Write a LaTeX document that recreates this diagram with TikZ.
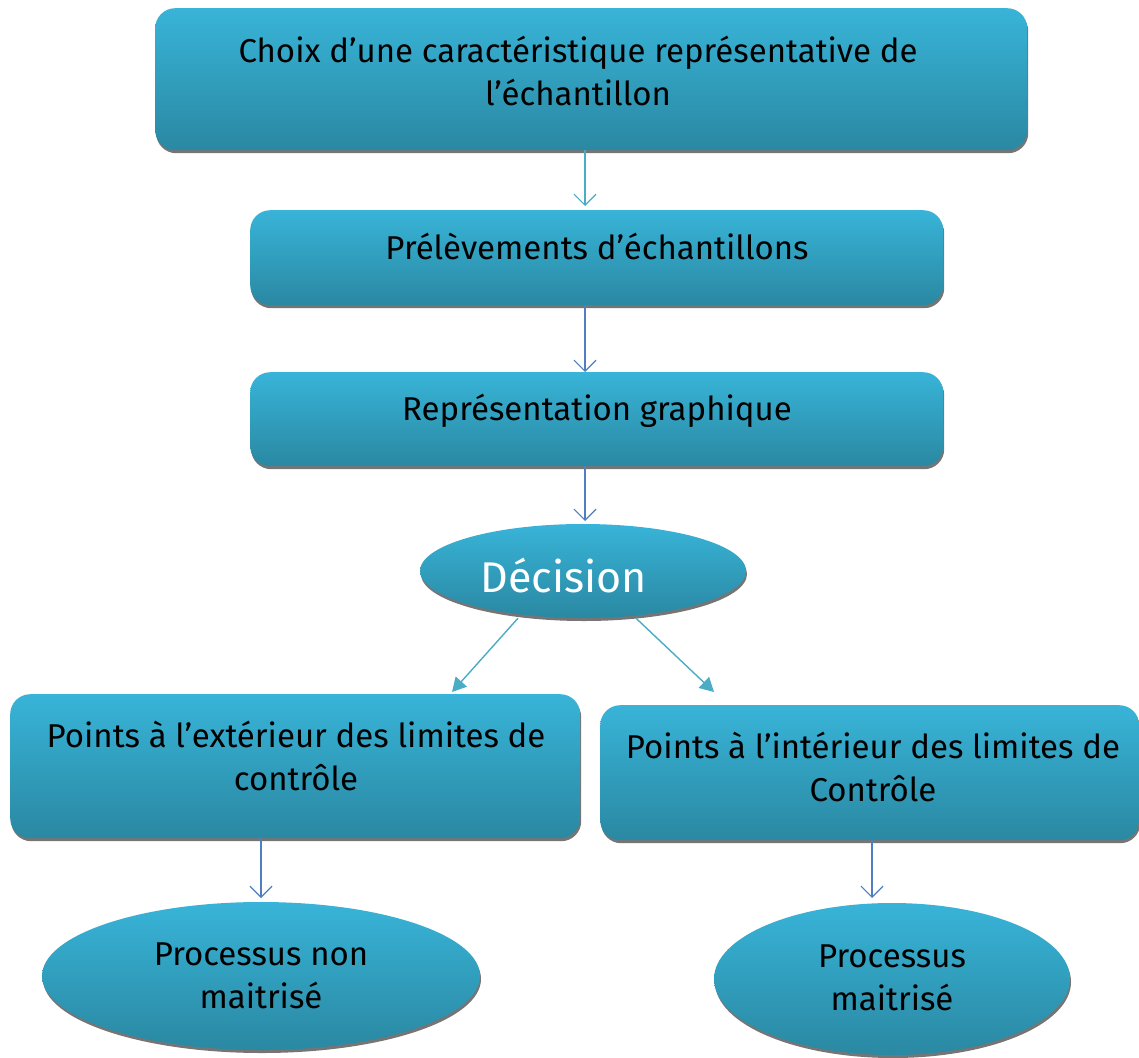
\documentclass[tikz,border=0pt]{standalone}
\usepackage{fontspec}
\setmainfont{Fira Sans}
\usetikzlibrary{arrows.meta,shapes.geometric,shadows}
\definecolor{boxtop}{HTML}{38B4D8}
\definecolor{boxbot}{HTML}{2A88A2}
\definecolor{arrA}{HTML}{4BACC6}
\definecolor{arrB}{HTML}{4F7FC0}
\begin{document}
\begin{tikzpicture}[x=1pt,y=-1pt,
  shad/.style={drop shadow={shadow xshift=1pt,shadow yshift=-3pt,fill=black!60,opacity=0.9}},
  txt/.style={font=\fontsize{33}{43}\selectfont,align=center,inner sep=0pt},
  stepbox/.style={rectangle,rounded corners=20pt,top color=boxtop,bottom color=boxbot,shad,
     inner sep=0pt,anchor=north west},
  ellbox/.style={ellipse,top color=boxtop,bottom color=boxbot,shad,inner sep=0pt},
  vline/.style={draw=arrB,line width=1.2pt,-{Straight Barb[length=11pt,width=22pt]}},
  dline/.style={draw=arrA,line width=1.4pt,-{Triangle[length=14pt,width=15pt]}}]
\useasboundingbox (0,0) rectangle (1139,1057);
% boxes
\node[stepbox,minimum width=872pt,minimum height=142pt] (b1) at (155,8) {};
\node[txt] (t1) at (578,71) {Choix d’une caractéristique représentative de\\l’échantillon};
\node[stepbox,minimum width=693pt,minimum height=95pt] (b2) at (250,210) {};
\node[txt] (t2) at (597,246) {Prélèvements d’échantillons};
\node[stepbox,minimum width=693pt,minimum height=94pt] (b3) at (250,372) {};
\node[txt] (t3) at (597,411) {Représentation graphique};
\node[ellbox,minimum width=326pt,minimum height=94pt] (d) at (583,571) {};
\node[font=\fontsize{43}{48}\selectfont,text=white,inner sep=0pt] (td) at (564,576) {Décision};
\node[stepbox,minimum width=570pt,minimum height=144pt] (b4) at (10,694) {};
\node[txt] (t4) at (296,756) {Points à l’extérieur des limites de\\contrôle};
\node[stepbox,minimum width=539pt,minimum height=135pt] (b5) at (600,705) {};
\node[txt] (t5) at (873,767) {Points à l’intérieur des limites de\\Contrôle};
\node[ellbox,minimum width=438pt,minimum height=148pt] (e1) at (261,976) {};
\node[txt] (te1) at (261,976) {Processus non\\maitrisé};
\node[ellbox,minimum width=356pt,minimum height=152pt] (e2) at (892,979) {};
\node[txt] (te2) at (892,978) {Processus\\maitrisé};
% connectors
\draw[vline,draw=arrA] (b1.south -| 585,0) -- (585,206);
\draw[vline] (b2.south -| 585,0) -- (b3.north -| 585,0);
\draw[vline] (b3.south -| 585,0) -- (585,521);
\draw[dline] (d.south) ++(-65,0) coordinate (dl) (dl) -- (452,692);
\draw[dline] (d.south) ++(53,0) coordinate (dr) (dr) -- (714,692);
\draw[vline] (b4.south -| 261,0) -- (261,898);
\draw[vline] (b5.south -| 872,0) -- (872,898);
\end{tikzpicture}
\end{document}
